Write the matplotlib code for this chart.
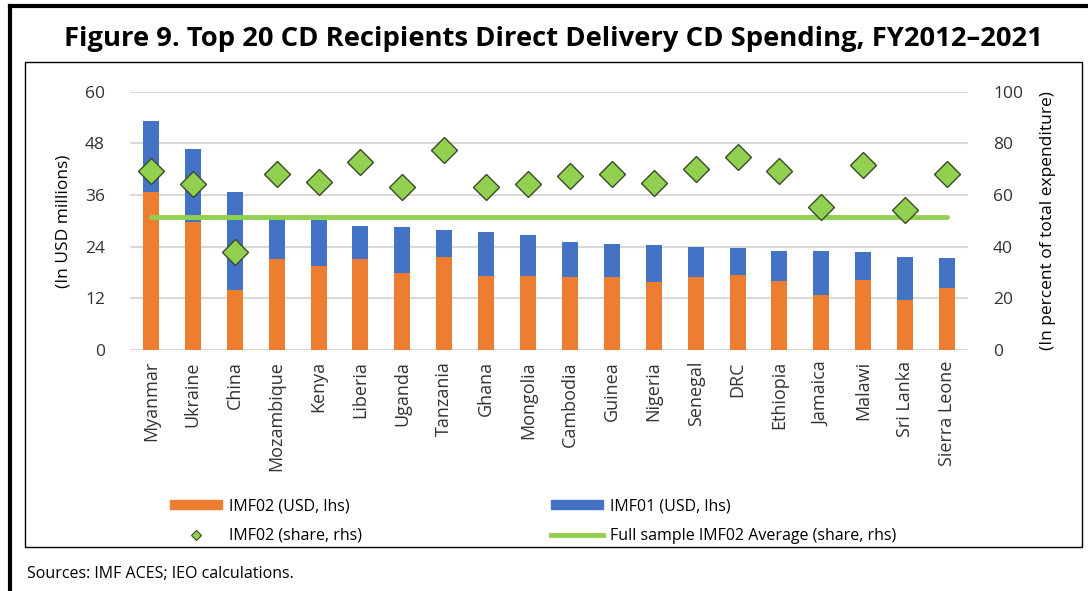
import numpy as np
import matplotlib
matplotlib.use("Agg")
import matplotlib.pyplot as plt
from matplotlib.patches import Rectangle
from matplotlib.lines import Line2D

plt.rcParams['font.family'] = ['Open Sans', 'DejaVu Sans']

countries = ["Myanmar", "Ukraine", "China", "Mozambique", "Kenya", "Liberia", "Uganda",
             "Tanzania", "Ghana", "Mongolia", "Cambodia", "Guinea", "Nigeria", "Senegal",
             "DRC", "Ethiopia", "Jamaica", "Malawi", "Sri Lanka", "Sierra Leone"]
total_usd = [53.1, 46.6, 36.8, 30.5, 30.3, 28.8, 28.5, 27.8, 27.3, 26.7,
             25.2, 24.6, 24.3, 24.0, 23.7, 23.1, 23.1, 22.8, 21.6, 21.3]
imf02_usd = [36.8, 29.7, 13.9, 21.1, 19.6, 21.1, 17.8, 21.6, 17.2, 17.2,
             16.9, 16.9, 15.7, 16.9, 17.4, 16.0, 12.7, 16.3, 11.5, 14.5]
imf02_share = [69.2, 64.1, 37.8, 68.1, 65.2, 72.7, 63.2, 77.5, 63.2, 64.1,
               67.2, 68.1, 64.7, 70.1, 74.6, 69.2, 55.2, 71.6, 54.2, 68.1]
avg_share = 51.5

imf01_usd = np.array(total_usd) - np.array(imf02_usd)

orange = "#ED7D31"
blue = "#4472C4"
green = "#92D050"

W, H = 1088, 591
fig = plt.figure(figsize=(W / 100, H / 100), dpi=100)

# outer thick border (left and top only visible) and inner chart frame
fig.add_artist(Line2D([10 / W, 10 / W], [0, 1 - 6 / H], transform=fig.transFigure,
                      color="black", lw=3, solid_capstyle="projecting"))
fig.add_artist(Line2D([10 / W, 1], [1 - 6 / H, 1 - 6 / H], transform=fig.transFigure,
                      color="black", lw=3, solid_capstyle="projecting"))
fig.add_artist(Rectangle((25 / W, (H - 547) / H), (1082 - 25) / W, (547 - 62) / H,
                         transform=fig.transFigure, fill=False, lw=1, ec="black"))

fig.text(553 / W, 1 - 39 / H, "Figure 9. Top 20 CD Recipients Direct Delivery CD Spending, FY2012\u20132021",
         ha="center", va="center", fontsize=19.7, fontweight="bold")
fig.text(27 / W, 1 - 574 / H, "Sources: IMF ACES; IEO calculations.", ha="left", va="center", fontsize=11.5)

ax = fig.add_axes([130 / W, (H - 350) / H, (968 - 130) / W, (350 - 91.7) / H])
x = np.arange(len(countries))
ax.bar(x, imf02_usd, width=0.38, color=orange, zorder=2)
ax.bar(x, imf01_usd, width=0.38, bottom=imf02_usd, color=blue, zorder=2)
ax.set_xlim(-0.5, len(countries) - 0.5)
ax.set_ylim(0, 60)
ax.set_yticks(np.arange(0, 61, 12))
ax.grid(axis="y", color="#d9d9d9", lw=1.5, zorder=0)
ax.set_axisbelow(True)
for s in ax.spines.values():
    s.set_visible(False)
ax.set_xticks(x)
ax.set_xticklabels(countries, rotation=90, fontsize=13, color="#222222")
ax.tick_params(axis="both", length=0, pad=8, labelsize=12.5, colors="#333333")
ax.tick_params(axis="x", labelsize=13)
ax.tick_params(axis="y", pad=18)
ax.set_ylabel("(In USD millions)", fontsize=12.5, labelpad=10)

ax2 = ax.twinx()
ax2.set_ylim(0, 100)
ax2.set_yticks(np.arange(0, 101, 20))
for s in ax2.spines.values():
    s.set_visible(False)
ax2.tick_params(axis="y", length=0, pad=18, labelsize=12.5, colors="#333333")
ax2.plot(x, [avg_share] * len(x), color=green, lw=3.5, solid_capstyle="round", zorder=3)
ax2.plot(x, imf02_share, ls="none", marker="D", ms=13, mfc=green, mec="#3a4a2a", mew=1, zorder=4)
ax2.set_ylabel("(In percent of total expenditure)", fontsize=12.5, labelpad=12)

handles = [
    Rectangle((0, 0), 1, 1, color=orange),
    Line2D([], [], ls="none", marker="D", ms=5, mfc=green, mec="#3a4a2a", mew=0.8),
    Rectangle((0, 0), 1, 1, color=blue),
    Line2D([], [], color=green, lw=3.5),
]
labels = ["IMF02 (USD, lhs)", "IMF02 (share, rhs)", "IMF01 (USD, lhs)",
          "Full sample IMF02 Average (share, rhs)"]
fig.legend(handles, labels, ncol=2, loc="upper left", bbox_to_anchor=(156 / W, 1 - 484 / H),
           frameon=False, fontsize=11.5, handlelength=3.25, handleheight=0.5, handletextpad=0.45,
           columnspacing=11.8, labelspacing=0.85)

fig.savefig("out.png", dpi=100)
